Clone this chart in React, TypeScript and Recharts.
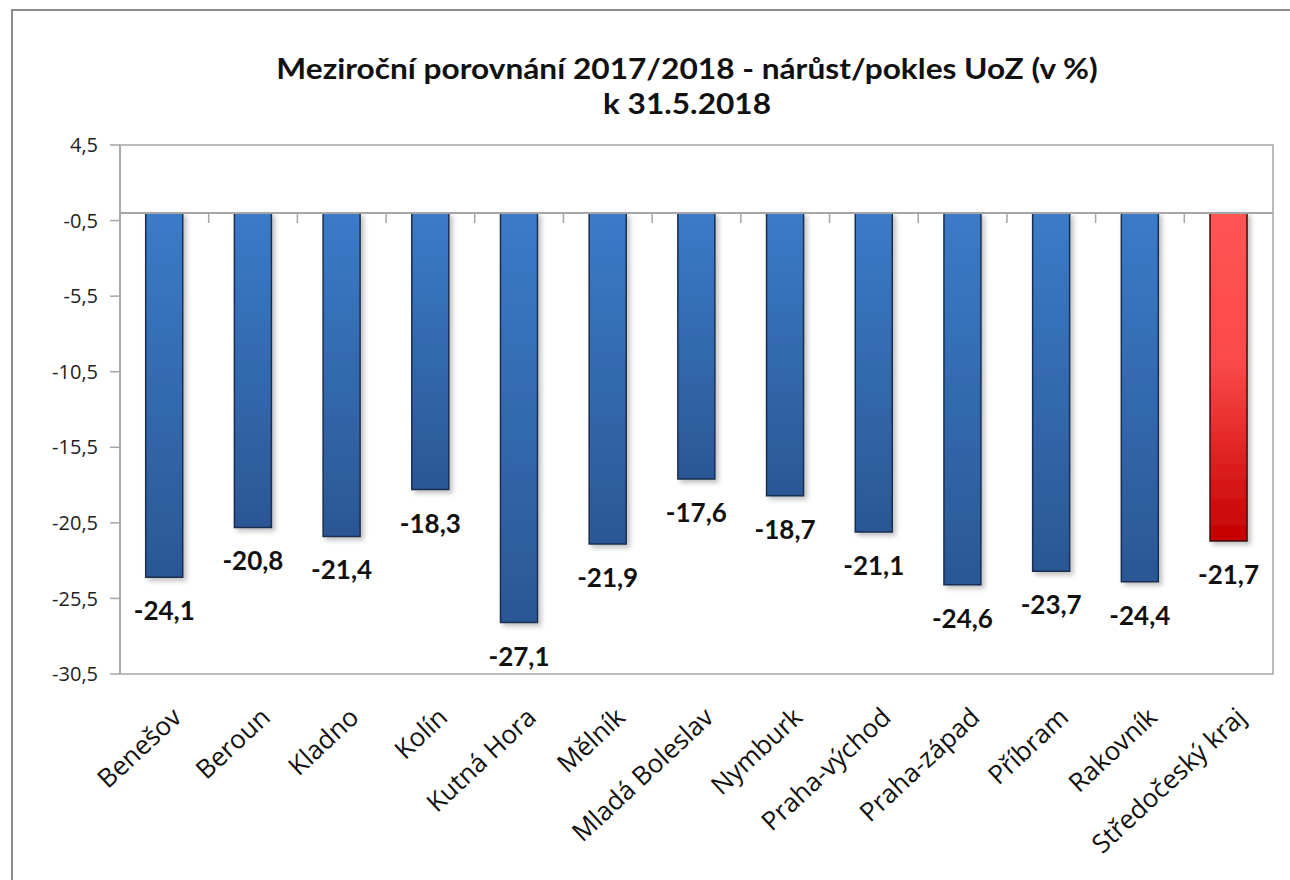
import { BarChart, Bar, XAxis, YAxis, Cell, LabelList, ReferenceLine, ReferenceArea } from 'recharts'

const districts = [
  'Benešov', 'Beroun', 'Kladno', 'Kolín', 'Kutná Hora', 'Mělník', 'Mladá Boleslav',
  'Nymburk', 'Praha-východ', 'Praha-západ', 'Příbram', 'Rakovník', 'Středočeský kraj',
]
const change = [-24.1, -20.8, -21.4, -18.3, -27.1, -21.9, -17.6, -18.7, -21.1, -24.6, -23.7, -24.4, -21.7]
const yTicks = [4.5, -0.5, -5.5, -10.5, -15.5, -20.5, -25.5, -30.5]
const regionTotal = 'Středočeský kraj'

const data = districts.map((name, i) => ({ name, value: change[i] }))

const fmt = (v: number) => v.toFixed(1).replace('.', ',')

const textFont = '"Open Sans", Lato, sans-serif'
const gray = '#a6a6a6'

function ValueLabel(props: any) {
  const { x, y, width, height, value } = props
  const bottom = Math.max(y, y + height)
  return (
    <text
      x={x + width / 2}
      y={bottom + 33}
      textAnchor="middle"
      dominantBaseline="central"
      fontFamily="Lato, sans-serif"
      fontWeight={700}
      fontSize={26}
      fill="#111"
    >
      {fmt(value)}
    </text>
  )
}

function CategoryTick(props: any) {
  const { x, y, payload } = props
  const tx = x + 12
  const ty = y + 30
  return (
    <text
      x={tx}
      y={ty}
      transform={`rotate(-43, ${tx}, ${ty})`}
      textAnchor="end"
      dominantBaseline="central"
      fontFamily={textFont}
      fontSize={26}
      fill="#111"
    >
      {payload.value}
    </text>
  )
}

// zero line with the small category separators hanging below it
function ZeroLine(props: any) {
  const { x1, y1, x2 } = props
  const step = (x2 - x1) / districts.length
  const marks = districts.slice(1).map((_, i) => x1 + step * (i + 1))
  return (
    <g>
      <line x1={x1} y1={y1} x2={x2} y2={y1} stroke={gray} strokeWidth={2} />
      {marks.map((mx) => (
        <line key={mx} x1={mx} y1={y1} x2={mx} y2={y1 + 10} stroke={gray} strokeWidth={1.5} />
      ))}
    </g>
  )
}

export default function App() {
  return (
    <div
      style={{
        position: 'absolute', left: 0, top: 0, width: 1290, height: 880,
        overflow: 'hidden', background: '#fff',
      }}
    >
      <div
        style={{
          position: 'absolute', left: 11, top: 9, width: 1400, height: 1000,
          borderLeft: '2.5px solid #8c8c8c', borderTop: '2.5px solid #8c8c8c',
        }}
      />
      <div
        style={{
          position: 'absolute', left: 687, top: 51, transform: 'translateX(-50%) scaleX(1.13)',
          whiteSpace: 'nowrap', textAlign: 'center', fontFamily: 'Lato, sans-serif',
          fontWeight: 700, fontSize: 28, lineHeight: '35px', color: '#111',
        }}
      >
        Meziroční porovnání 2017/2018 - nárůst/pokles UoZ (v %)
        <br />
        k 31.5.2018
      </div>
      <div style={{ position: 'absolute', left: 0, top: 0 }}>
        <BarChart
          width={1290}
          height={880}
          data={data}
          margin={{ top: 145, right: 17, bottom: 26, left: 28 }}
          barCategoryGap="29%"
        >
          <defs>
            <linearGradient id="blueFill" x1="0" y1="0" x2="0" y2="1">
              <stop offset="0%" stopColor="#3b7bc8" />
              <stop offset="100%" stopColor="#2b5795" />
            </linearGradient>
            <linearGradient id="redFill" x1="0" y1="0" x2="0" y2="1">
              <stop offset="0%" stopColor="#ff5454" />
              <stop offset="45%" stopColor="#fc4a4a" />
              <stop offset="100%" stopColor="#c40000" />
            </linearGradient>
            <filter id="barShadow" x="-20%" y="-5%" width="150%" height="115%">
              <feDropShadow dx="3" dy="3" stdDeviation="2.5" floodColor="#000" floodOpacity="0.25" />
            </filter>
          </defs>
          <ReferenceArea y1={-30.5} y2={4.5} fill="none" stroke={gray} strokeWidth={1.5} fillOpacity={0} />
          <XAxis
            dataKey="name"
            axisLine={false}
            tickLine={false}
            height={180}
            interval={0}
            tick={<CategoryTick />}
          />
          <YAxis
            type="number"
            domain={[-30.5, 4.5]}
            ticks={yTicks}
            width={92}
            axisLine={{ stroke: gray, strokeWidth: 1.5 }}
            tickLine={{ stroke: gray, strokeWidth: 1.5 }}
            tickSize={10}
            tickMargin={12}
            tickFormatter={fmt}
            tick={{ fontFamily: textFont, fontSize: 20, fill: '#222' }}
            allowDataOverflow
          />
          <Bar dataKey="value" isAnimationActive={false} filter="url(#barShadow)">
            {data.map((d) => (
              <Cell
                key={d.name}
                fill={d.name === regionTotal ? 'url(#redFill)' : 'url(#blueFill)'}
                stroke={d.name === regionTotal ? '#3a1010' : '#1a2f4f'}
                strokeWidth={1.5}
              />
            ))}
            <LabelList dataKey="value" content={<ValueLabel />} />
          </Bar>
          <ReferenceLine y={0} shape={<ZeroLine />} />
        </BarChart>
      </div>
    </div>
  )
}
